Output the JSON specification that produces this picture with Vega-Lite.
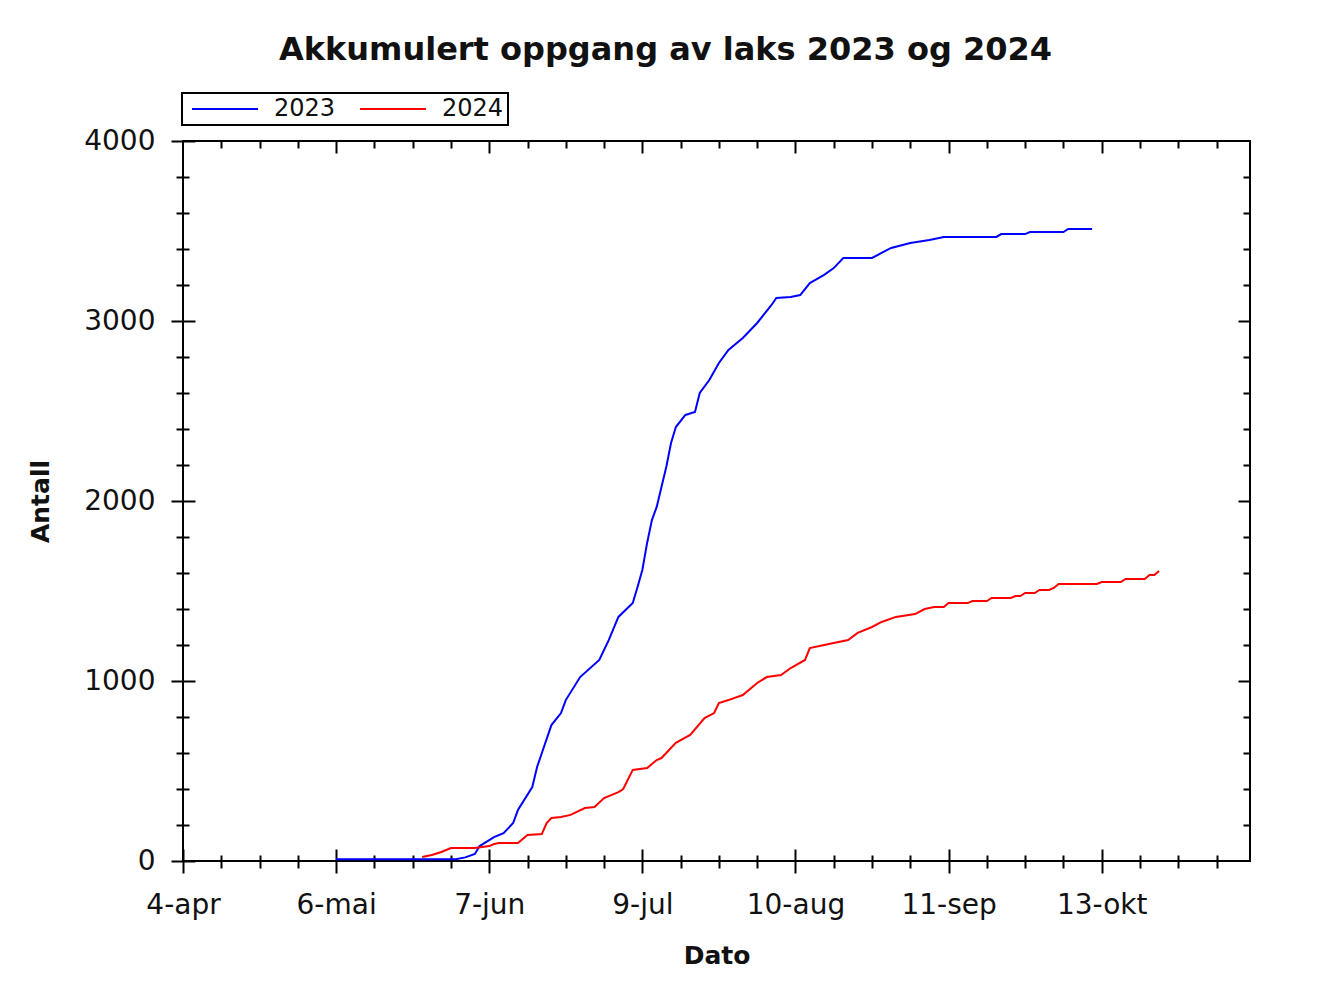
{
  "$schema": "https://vega.github.io/schema/vega-lite/v6.json",
  "width": 1067,
  "height": 720,
  "autosize": {"type": "none"},
  "padding": {"left": 183, "top": 141, "right": 75, "bottom": 135},
  "background": "white",
  "config": {
    "view": {"stroke": "black", "strokeWidth": 2},
    "legend": {"strokeWidth": 2},
    "axis": {"grid": false, "domain": false, "tickColor": "black", "tickWidth": 2, "labelColor": "#111111", "labelFont": "DejaVu Sans", "titleFont": "DejaVu Sans", "titleColor": "#111111", "labelFlush": false}
  },
  "title": {
    "text": "Akkumulert oppgang av laks 2023 og 2024",
    "font": "DejaVu Sans",
    "fontSize": 32,
    "fontWeight": "bold",
    "color": "#111111",
    "anchor": "middle",
    "frame": "group",
    "baseline": "alphabetic",
    "offset": 0,
    "dx": -51
  },
  "data": {
    "values": [
      {"aar": "2023", "dato": "2023-05-06", "antall": 10},
      {"aar": "2023", "dato": "2023-05-31", "antall": 10},
      {"aar": "2023", "dato": "2023-06-02", "antall": 20},
      {"aar": "2023", "dato": "2023-06-04", "antall": 39},
      {"aar": "2023", "dato": "2023-06-05", "antall": 83},
      {"aar": "2023", "dato": "2023-06-08", "antall": 133},
      {"aar": "2023", "dato": "2023-06-10", "antall": 155},
      {"aar": "2023", "dato": "2023-06-12", "antall": 211},
      {"aar": "2023", "dato": "2023-06-13", "antall": 283},
      {"aar": "2023", "dato": "2023-06-16", "antall": 411},
      {"aar": "2023", "dato": "2023-06-17", "antall": 522},
      {"aar": "2023", "dato": "2023-06-18", "antall": 600},
      {"aar": "2023", "dato": "2023-06-20", "antall": 755},
      {"aar": "2023", "dato": "2023-06-22", "antall": 822},
      {"aar": "2023", "dato": "2023-06-23", "antall": 894},
      {"aar": "2023", "dato": "2023-06-26", "antall": 1022},
      {"aar": "2023", "dato": "2023-06-30", "antall": 1117},
      {"aar": "2023", "dato": "2023-07-02", "antall": 1228},
      {"aar": "2023", "dato": "2023-07-04", "antall": 1356},
      {"aar": "2023", "dato": "2023-07-07", "antall": 1433},
      {"aar": "2023", "dato": "2023-07-08", "antall": 1522},
      {"aar": "2023", "dato": "2023-07-09", "antall": 1617},
      {"aar": "2023", "dato": "2023-07-10", "antall": 1767},
      {"aar": "2023", "dato": "2023-07-11", "antall": 1894},
      {"aar": "2023", "dato": "2023-07-12", "antall": 1967},
      {"aar": "2023", "dato": "2023-07-13", "antall": 2078},
      {"aar": "2023", "dato": "2023-07-14", "antall": 2189},
      {"aar": "2023", "dato": "2023-07-15", "antall": 2322},
      {"aar": "2023", "dato": "2023-07-16", "antall": 2411},
      {"aar": "2023", "dato": "2023-07-18", "antall": 2478},
      {"aar": "2023", "dato": "2023-07-20", "antall": 2494},
      {"aar": "2023", "dato": "2023-07-21", "antall": 2600},
      {"aar": "2023", "dato": "2023-07-23", "antall": 2672},
      {"aar": "2023", "dato": "2023-07-25", "antall": 2767},
      {"aar": "2023", "dato": "2023-07-27", "antall": 2839},
      {"aar": "2023", "dato": "2023-07-30", "antall": 2906},
      {"aar": "2023", "dato": "2023-08-02", "antall": 2989},
      {"aar": "2023", "dato": "2023-08-05", "antall": 3089},
      {"aar": "2023", "dato": "2023-08-06", "antall": 3128},
      {"aar": "2023", "dato": "2023-08-09", "antall": 3133},
      {"aar": "2023", "dato": "2023-08-11", "antall": 3144},
      {"aar": "2023", "dato": "2023-08-13", "antall": 3211},
      {"aar": "2023", "dato": "2023-08-16", "antall": 3256},
      {"aar": "2023", "dato": "2023-08-18", "antall": 3294},
      {"aar": "2023", "dato": "2023-08-20", "antall": 3350},
      {"aar": "2023", "dato": "2023-08-26", "antall": 3350},
      {"aar": "2023", "dato": "2023-08-28", "antall": 3378},
      {"aar": "2023", "dato": "2023-08-30", "antall": 3406},
      {"aar": "2023", "dato": "2023-09-03", "antall": 3433},
      {"aar": "2023", "dato": "2023-09-07", "antall": 3450},
      {"aar": "2023", "dato": "2023-09-10", "antall": 3467},
      {"aar": "2023", "dato": "2023-09-21", "antall": 3467},
      {"aar": "2023", "dato": "2023-09-22", "antall": 3483},
      {"aar": "2023", "dato": "2023-09-27", "antall": 3483},
      {"aar": "2023", "dato": "2023-09-28", "antall": 3494},
      {"aar": "2023", "dato": "2023-10-05", "antall": 3494},
      {"aar": "2023", "dato": "2023-10-06", "antall": 3511},
      {"aar": "2023", "dato": "2023-10-11", "antall": 3511},
      {"aar": "2024", "dato": "2024-05-24", "antall": 22},
      {"aar": "2024", "dato": "2024-05-26", "antall": 33},
      {"aar": "2024", "dato": "2024-05-28", "antall": 50},
      {"aar": "2024", "dato": "2024-05-30", "antall": 72},
      {"aar": "2024", "dato": "2024-06-04", "antall": 72},
      {"aar": "2024", "dato": "2024-06-07", "antall": 83},
      {"aar": "2024", "dato": "2024-06-08", "antall": 94},
      {"aar": "2024", "dato": "2024-06-09", "antall": 100},
      {"aar": "2024", "dato": "2024-06-13", "antall": 100},
      {"aar": "2024", "dato": "2024-06-15", "antall": 144},
      {"aar": "2024", "dato": "2024-06-18", "antall": 150},
      {"aar": "2024", "dato": "2024-06-19", "antall": 211},
      {"aar": "2024", "dato": "2024-06-20", "antall": 239},
      {"aar": "2024", "dato": "2024-06-22", "antall": 244},
      {"aar": "2024", "dato": "2024-06-24", "antall": 256},
      {"aar": "2024", "dato": "2024-06-27", "antall": 294},
      {"aar": "2024", "dato": "2024-06-29", "antall": 300},
      {"aar": "2024", "dato": "2024-07-01", "antall": 350},
      {"aar": "2024", "dato": "2024-07-04", "antall": 383},
      {"aar": "2024", "dato": "2024-07-05", "antall": 400},
      {"aar": "2024", "dato": "2024-07-07", "antall": 506},
      {"aar": "2024", "dato": "2024-07-10", "antall": 517},
      {"aar": "2024", "dato": "2024-07-12", "antall": 561},
      {"aar": "2024", "dato": "2024-07-13", "antall": 572},
      {"aar": "2024", "dato": "2024-07-16", "antall": 656},
      {"aar": "2024", "dato": "2024-07-19", "antall": 700},
      {"aar": "2024", "dato": "2024-07-22", "antall": 794},
      {"aar": "2024", "dato": "2024-07-24", "antall": 822},
      {"aar": "2024", "dato": "2024-07-25", "antall": 878},
      {"aar": "2024", "dato": "2024-07-27", "antall": 894},
      {"aar": "2024", "dato": "2024-07-30", "antall": 922},
      {"aar": "2024", "dato": "2024-08-02", "antall": 989},
      {"aar": "2024", "dato": "2024-08-04", "antall": 1022},
      {"aar": "2024", "dato": "2024-08-07", "antall": 1033},
      {"aar": "2024", "dato": "2024-08-09", "antall": 1072},
      {"aar": "2024", "dato": "2024-08-12", "antall": 1117},
      {"aar": "2024", "dato": "2024-08-13", "antall": 1183},
      {"aar": "2024", "dato": "2024-08-16", "antall": 1200},
      {"aar": "2024", "dato": "2024-08-19", "antall": 1217},
      {"aar": "2024", "dato": "2024-08-21", "antall": 1228},
      {"aar": "2024", "dato": "2024-08-23", "antall": 1267},
      {"aar": "2024", "dato": "2024-08-26", "antall": 1300},
      {"aar": "2024", "dato": "2024-08-28", "antall": 1328},
      {"aar": "2024", "dato": "2024-08-31", "antall": 1356},
      {"aar": "2024", "dato": "2024-09-04", "antall": 1372},
      {"aar": "2024", "dato": "2024-09-06", "antall": 1400},
      {"aar": "2024", "dato": "2024-09-08", "antall": 1411},
      {"aar": "2024", "dato": "2024-09-10", "antall": 1411},
      {"aar": "2024", "dato": "2024-09-11", "antall": 1433},
      {"aar": "2024", "dato": "2024-09-15", "antall": 1433},
      {"aar": "2024", "dato": "2024-09-16", "antall": 1444},
      {"aar": "2024", "dato": "2024-09-19", "antall": 1444},
      {"aar": "2024", "dato": "2024-09-20", "antall": 1461},
      {"aar": "2024", "dato": "2024-09-24", "antall": 1461},
      {"aar": "2024", "dato": "2024-09-25", "antall": 1472},
      {"aar": "2024", "dato": "2024-09-26", "antall": 1472},
      {"aar": "2024", "dato": "2024-09-27", "antall": 1489},
      {"aar": "2024", "dato": "2024-09-29", "antall": 1489},
      {"aar": "2024", "dato": "2024-09-30", "antall": 1506},
      {"aar": "2024", "dato": "2024-10-02", "antall": 1506},
      {"aar": "2024", "dato": "2024-10-03", "antall": 1517},
      {"aar": "2024", "dato": "2024-10-04", "antall": 1539},
      {"aar": "2024", "dato": "2024-10-12", "antall": 1539},
      {"aar": "2024", "dato": "2024-10-13", "antall": 1550},
      {"aar": "2024", "dato": "2024-10-17", "antall": 1550},
      {"aar": "2024", "dato": "2024-10-18", "antall": 1567},
      {"aar": "2024", "dato": "2024-10-22", "antall": 1567},
      {"aar": "2024", "dato": "2024-10-23", "antall": 1589},
      {"aar": "2024", "dato": "2024-10-24", "antall": 1589},
      {"aar": "2024", "dato": "2024-10-25", "antall": 1611}
    ]
  },
  "encoding": {
    "color": {
      "field": "aar",
      "type": "nominal",
      "scale": {"domain": ["2023", "2024"], "range": ["#0000ff", "#ff0000"]},
      "legend": {
        "title": null,
        "orient": "none",
        "legendX": -1,
        "legendY": -48,
        "direction": "horizontal",
        "strokeColor": "black",
        "fillColor": "white",
        "padding": 4,
        "symbolType": "M-3.3,0H3.3",
        "symbolSize": 400,
        "symbolOffset": 27,
        "symbolStrokeWidth": 2,
        "labelFont": "DejaVu Sans",
        "labelFontSize": 24,
        "labelColor": "#111111",
        "labelOffset": 37,
        "columnPadding": 18
      }
    }
  },
  "layer": [
    {
      "mark": {"type": "line", "strokeWidth": 2},
      "encoding": {
        "x": {
          "field": "dato", "type": "temporal", "timeUnit": "utcmonthdate",
          "scale": {"domain": [{"year": 2012, "month": 4, "date": 4, "utc": true}, {"year": 2012, "month": 11, "date": 13, "utc": true}]},
          "axis": {
            "orient": "bottom",
            "values": [
              {"year": 2012, "month": 4, "date": 4, "utc": true},
              {"year": 2012, "month": 5, "date": 6, "utc": true},
              {"year": 2012, "month": 6, "date": 7, "utc": true},
              {"year": 2012, "month": 7, "date": 9, "utc": true},
              {"year": 2012, "month": 8, "date": 10, "utc": true},
              {"year": 2012, "month": 9, "date": 11, "utc": true},
              {"year": 2012, "month": 10, "date": 13, "utc": true}
            ],
            "labelExpr": "utcdate(datum.value) + '-' + (utcmonth(datum.value) == 3 ? 'apr' : utcmonth(datum.value) == 4 ? 'mai' : utcmonth(datum.value) == 5 ? 'jun' : utcmonth(datum.value) == 6 ? 'jul' : utcmonth(datum.value) == 7 ? 'aug' : utcmonth(datum.value) == 8 ? 'sep' : utcmonth(datum.value) == 9 ? 'okt' : 'nov')",
            "offset": -12,
            "tickSize": 24,
            "labelPadding": 18,
            "labelFontSize": 28,
            "title": "Dato",
            "titleFontSize": 25,
            "titleFontWeight": "bold",
            "titlePadding": 24
          }
        },
        "y": {
          "field": "antall", "type": "quantitative",
          "scale": {"domain": [0, 4000], "nice": false},
          "axis": {
            "orient": "left",
            "values": [0, 1000, 2000, 3000, 4000],
            "format": "d",
            "offset": -12,
            "tickSize": 24,
            "labelPadding": 16,
            "labelFontSize": 28,
            "title": "Antall",
            "titleFontSize": 25,
            "titleFontWeight": "bold",
            "titlePadding": 30
          }
        }
      }
    },
    {
      "mark": {"type": "line", "strokeOpacity": 0},
      "encoding": {
        "x": {
          "field": "dato", "type": "temporal", "timeUnit": "utcmonthdate",
          "axis": {
            "orient": "bottom",
            "values": [
              {"year": 2012, "month": 4, "date": 12, "utc": true},
              {"year": 2012, "month": 4, "date": 20, "utc": true},
              {"year": 2012, "month": 4, "date": 28, "utc": true},
              {"year": 2012, "month": 5, "date": 14, "utc": true},
              {"year": 2012, "month": 5, "date": 22, "utc": true},
              {"year": 2012, "month": 5, "date": 30, "utc": true},
              {"year": 2012, "month": 6, "date": 15, "utc": true},
              {"year": 2012, "month": 6, "date": 23, "utc": true},
              {"year": 2012, "month": 7, "date": 1, "utc": true},
              {"year": 2012, "month": 7, "date": 17, "utc": true},
              {"year": 2012, "month": 7, "date": 25, "utc": true},
              {"year": 2012, "month": 8, "date": 2, "utc": true},
              {"year": 2012, "month": 8, "date": 18, "utc": true},
              {"year": 2012, "month": 8, "date": 26, "utc": true},
              {"year": 2012, "month": 9, "date": 3, "utc": true},
              {"year": 2012, "month": 9, "date": 19, "utc": true},
              {"year": 2012, "month": 9, "date": 27, "utc": true},
              {"year": 2012, "month": 10, "date": 5, "utc": true},
              {"year": 2012, "month": 10, "date": 21, "utc": true},
              {"year": 2012, "month": 10, "date": 29, "utc": true},
              {"year": 2012, "month": 11, "date": 6, "utc": true}
            ],
            "offset": -6,
            "tickSize": 13,
            "labels": false,
            "title": null
          }
        },
        "y": {
          "field": "antall", "type": "quantitative",
          "axis": {
            "orient": "left",
            "values": [200, 400, 600, 800, 1200, 1400, 1600, 1800, 2200, 2400, 2600, 2800, 3200, 3400, 3600, 3800],
            "offset": -6,
            "tickSize": 13,
            "labels": false,
            "title": null
          }
        }
      }
    },
    {
      "mark": {"type": "line", "strokeOpacity": 0},
      "encoding": {
        "x": {
          "field": "dato", "type": "temporal", "timeUnit": "utcmonthdate",
          "axis": {
            "orient": "top",
            "values": [
              {"year": 2012, "month": 5, "date": 6, "utc": true},
              {"year": 2012, "month": 6, "date": 7, "utc": true},
              {"year": 2012, "month": 7, "date": 9, "utc": true},
              {"year": 2012, "month": 8, "date": 10, "utc": true},
              {"year": 2012, "month": 9, "date": 11, "utc": true},
              {"year": 2012, "month": 10, "date": 13, "utc": true}
            ],
            "offset": -12,
            "tickSize": 12,
            "labels": false,
            "title": null
          }
        },
        "y": {
          "field": "antall", "type": "quantitative",
          "axis": {
            "orient": "right",
            "values": [1000, 2000, 3000],
            "offset": -12,
            "tickSize": 12,
            "labels": false,
            "title": null
          }
        }
      }
    },
    {
      "mark": {"type": "line", "strokeOpacity": 0},
      "encoding": {
        "x": {
          "field": "dato", "type": "temporal", "timeUnit": "utcmonthdate",
          "axis": {
            "orient": "top",
            "values": [
              {"year": 2012, "month": 4, "date": 12, "utc": true},
              {"year": 2012, "month": 4, "date": 20, "utc": true},
              {"year": 2012, "month": 4, "date": 28, "utc": true},
              {"year": 2012, "month": 5, "date": 14, "utc": true},
              {"year": 2012, "month": 5, "date": 22, "utc": true},
              {"year": 2012, "month": 5, "date": 30, "utc": true},
              {"year": 2012, "month": 6, "date": 15, "utc": true},
              {"year": 2012, "month": 6, "date": 23, "utc": true},
              {"year": 2012, "month": 7, "date": 1, "utc": true},
              {"year": 2012, "month": 7, "date": 17, "utc": true},
              {"year": 2012, "month": 7, "date": 25, "utc": true},
              {"year": 2012, "month": 8, "date": 2, "utc": true},
              {"year": 2012, "month": 8, "date": 18, "utc": true},
              {"year": 2012, "month": 8, "date": 26, "utc": true},
              {"year": 2012, "month": 9, "date": 3, "utc": true},
              {"year": 2012, "month": 9, "date": 19, "utc": true},
              {"year": 2012, "month": 9, "date": 27, "utc": true},
              {"year": 2012, "month": 10, "date": 5, "utc": true},
              {"year": 2012, "month": 10, "date": 21, "utc": true},
              {"year": 2012, "month": 10, "date": 29, "utc": true},
              {"year": 2012, "month": 11, "date": 6, "utc": true}
            ],
            "offset": -7,
            "tickSize": 7,
            "labels": false,
            "title": null
          }
        },
        "y": {
          "field": "antall", "type": "quantitative",
          "axis": {
            "orient": "right",
            "values": [200, 400, 600, 800, 1200, 1400, 1600, 1800, 2200, 2400, 2600, 2800, 3200, 3400, 3600, 3800],
            "offset": -7,
            "tickSize": 7,
            "labels": false,
            "title": null
          }
        }
      }
    }
  ],
  "resolve": {"axis": {"x": "independent", "y": "independent"}}
}
